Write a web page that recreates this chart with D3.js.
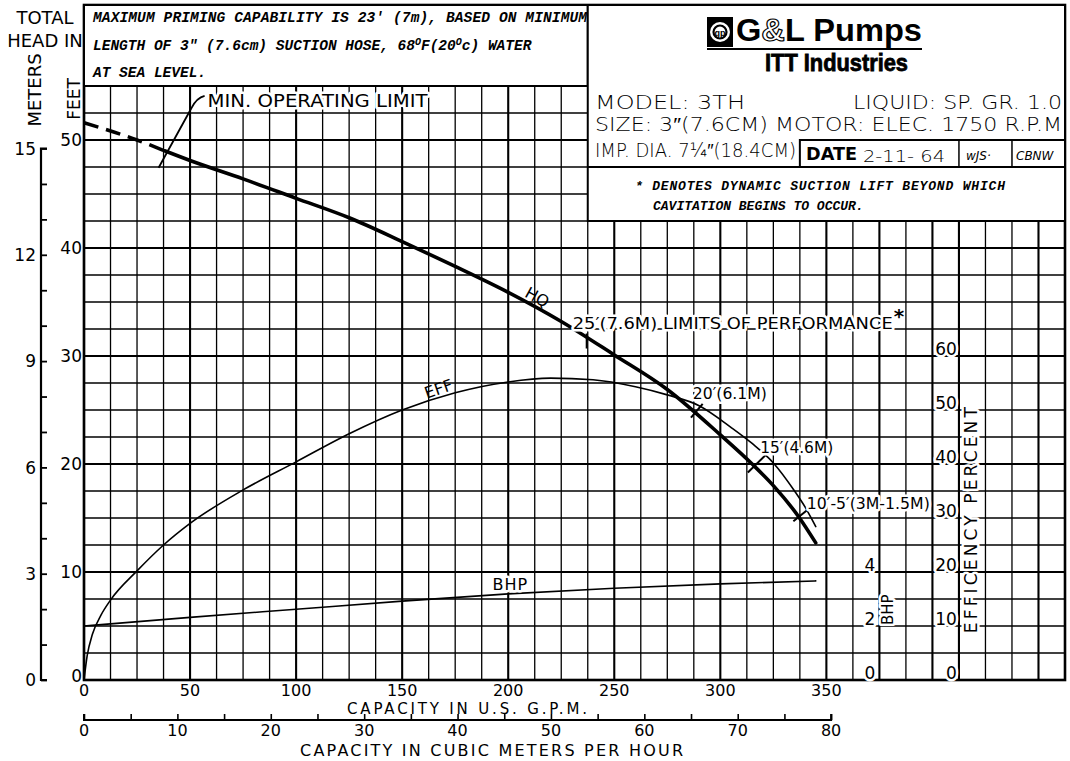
<!DOCTYPE html>
<html lang="en">
<head>
<meta charset="utf-8">
<title>G&amp;L Pumps 3TH performance curve</title>
<script src="https://cdn.jsdelivr.net/npm/d3@7"></script>
<style>
  body { margin: 0; background: #fff; }
  svg { display: block; }
  .lt { font-family: "DejaVu Sans", sans-serif; fill: #000; }
  .typed { font-family: "Liberation Mono", monospace; font-style: italic; font-weight: bold; fill: #000; }
  .halo { paint-order: stroke; stroke: #fff; stroke-width: 5px; stroke-linejoin: round; }
</style>
</head>
<body>
<script>
  // head-capacity curve (US GPM, feet)
  var hqGpm = [0, 25, 38, 50, 75, 100, 125, 150, 175, 200, 225, 250, 275, 300, 315, 325, 337, 345];
  var hqFeet = [51.6, 50.0, 49.0, 48.1, 46.4, 44.6, 42.8, 40.6, 38.3, 35.9, 33.2, 30.1, 26.9, 22.7, 20.0, 18.0, 15.1, 12.7];
  var minOperatingGpm = 38;

  // efficiency curve (US GPM, percent)
  var effGpm = [0, 1.5, 4, 8, 12.5, 25, 37.5, 50, 75, 100, 125, 150, 175, 200, 220, 240, 260, 275, 290, 305, 315, 325, 335, 340, 345];
  var effPct = [0, 4.5, 8.5, 12, 14.8, 20.2, 25, 29, 35.2, 40.4, 45.6, 50, 53.2, 55.2, 55.9, 55.6, 54.3, 52.8, 50.8, 46.8, 43.8, 40.2, 35, 32, 28.4];

  // brake horsepower (US GPM, HP)
  var bhpGpm = [0, 50, 100, 150, 200, 250, 300, 345];
  var bhpHp = [2.0, 2.32, 2.62, 2.92, 3.19, 3.4, 3.56, 3.67];

  // suction lift limits of performance
  var limitGpm = [237, 288, 316, 337];
  var limitText = ["25\u2032(7.6M) LIMITS OF PERFORMANCE", "20\u2032(6.1M)", "15\u2032(4.6M)", "10\u2032-5\u2032(3M-1.5M)"];

  // tick labels
  var gpmTicks = [0, 50, 100, 150, 200, 250, 300, 350];
  var cubicTicks = [0, 10, 20, 30, 40, 50, 60, 70, 80];
  var feetTicks = [0, 10, 20, 30, 40, 50];
  var meterTicks = [0, 3, 6, 9, 12, 15];
  var bhpTicks = [0, 2, 4];
  var effTicks = [0, 10, 20, 30, 40, 50, 60];

  var W = 1070, H = 761;
  var gpmMax = 462.5, feetMax = 62.5;

  var x = d3.scaleLinear().domain([0, gpmMax]).range([84, 1065]);
  var y = d3.scaleLinear().domain([0, feetMax]).range([680, 5]);
  var yMeters = d3.scaleLinear().domain([0, feetMax / 3.28084]).range([680, 5]);
  var xCubic = d3.scaleLinear().domain([0, gpmMax * 0.2271247]).range([84, 1065]);
  var yEff = d3.scaleLinear().domain([0, feetMax * 2]).range([680, 5]);
  var yBhp = d3.scaleLinear().domain([0, feetMax / 2.5]).range([680, 5]);

  var svg = d3.select("body").append("svg")
      .attr("width", W)
      .attr("height", H);

  // ---- grid ----
  var grid = svg.append("g").attr("stroke", "#000");
  grid.selectAll(".vline")
      .data(d3.range(0, gpmMax + 0.01, 12.5))
      .enter().append("line")
      .attr("x1", d => x(d)).attr("x2", d => x(d))
      .attr("y1", y(0)).attr("y2", y(feetMax))
      .attr("stroke-width", d => (d % 50 === 0 || d === 375 || d === 412.5) ? 2.1 : 1.3);
  grid.selectAll(".hline")
      .data(d3.range(0, feetMax + 0.01, 2.5))
      .enter().append("line")
      .attr("x1", x(0)).attr("x2", x(gpmMax))
      .attr("y1", d => y(d)).attr("y2", d => y(d))
      .attr("stroke-width", d => d % 10 === 0 ? 2.1 : 1.3);

  svg.append("rect")
      .attr("x", x(0)).attr("y", y(feetMax))
      .attr("width", x(gpmMax) - x(0)).attr("height", y(0) - y(feetMax))
      .attr("fill", "none").attr("stroke", "#000").attr("stroke-width", 2.6);

  // ---- boxes ----
  function box(g0, f0, g1, f1, sw) {
    return svg.append("rect")
        .attr("x", x(g0)).attr("y", y(f0))
        .attr("width", x(g1) - x(g0)).attr("height", y(f1) - y(f0))
        .attr("fill", "#fff").attr("stroke", "#000").attr("stroke-width", sw || 2);
  }
  box(0, feetMax, 237.5, 55);
  box(237.5, feetMax, gpmMax, 42.5);
  svg.append("line")
      .attr("x1", x(237.5)).attr("x2", x(gpmMax))
      .attr("y1", y(47.5)).attr("y2", y(47.5))
      .attr("stroke", "#000").attr("stroke-width", 2);
  box(337.5, 50, gpmMax, 47.5, 2);
  [412.5, 437.5].forEach(function (g) {
    svg.append("line")
        .attr("x1", x(g)).attr("x2", x(g)).attr("y1", y(50)).attr("y2", y(47.5))
        .attr("stroke", "#000").attr("stroke-width", 1.5);
  });

  // priming note
  var note = svg.append("g").attr("class", "typed").attr("font-size", 14.5);
  note.append("text").attr("x", 93).attr("y", 22).attr("textLength", 494)
      .text("MAXIMUM PRIMING CAPABILITY IS 23' (7m), BASED ON MINIMUM");
  var n2 = note.append("text").attr("x", 93).attr("y", 50);
  n2.append("tspan").text("LENGTH OF 3\" (7.6cm) SUCTION HOSE, 68");
  n2.append("tspan").attr("font-size", 10).attr("dy", -5).text("O");
  n2.append("tspan").attr("dy", 5).text("F(20");
  n2.append("tspan").attr("font-size", 10).attr("dy", -5).text("O");
  n2.append("tspan").attr("dy", 5).text("c) WATER");
  note.append("text").attr("x", 93).attr("y", 77).text("AT SEA LEVEL.");

  // ---- title block ----
  var logo = svg.append("g");
  logo.append("rect").attr("x", 707).attr("y", 17).attr("width", 26).attr("height", 30).attr("fill", "#000");
  logo.append("circle").attr("cx", 720).attr("cy", 32).attr("r", 10).attr("fill", "#fff");
  logo.append("circle").attr("cx", 720).attr("cy", 32).attr("r", 6.5).attr("fill", "none")
      .attr("stroke", "#000").attr("stroke-width", 2.2);
  logo.append("text").attr("x", 720).attr("y", 35.5).attr("text-anchor", "middle")
      .attr("font-family", "Liberation Sans").attr("font-size", 9).attr("font-weight", "bold").text("gp");
  var gl = logo.append("text").attr("x", 736).attr("y", 41)
      .attr("font-family", "Liberation Sans, Arial, sans-serif")
      .attr("font-weight", "bold").attr("font-size", 32)
      .attr("textLength", 186).attr("lengthAdjust", "spacingAndGlyphs");
  gl.append("tspan").text("G");
  gl.append("tspan").attr("fill", "#fff").attr("stroke", "#000").attr("stroke-width", 1.2).text("&");
  gl.append("tspan").text("L Pumps");
  logo.append("line").attr("x1", 707).attr("x2", 922).attr("y1", 49).attr("y2", 49)
      .attr("stroke", "#000").attr("stroke-width", 1.8);
  logo.append("text").attr("x", 765).attr("y", 71)
      .attr("font-family", "Liberation Sans, Arial, sans-serif")
      .attr("font-weight", "bold").attr("font-size", 24)
      .attr("stroke", "#000").attr("stroke-width", 0.8)
      .attr("textLength", 143).attr("lengthAdjust", "spacingAndGlyphs")
      .text("ITT Industries");

  var spec = svg.append("g").attr("class", "lt").attr("font-size", 19).attr("font-weight", 300);
  spec.append("text").attr("x", 595).attr("y", 109)
      .attr("textLength", 150).attr("lengthAdjust", "spacingAndGlyphs").text("MODEL: 3TH");
  spec.append("text").attr("x", 853).attr("y", 109)
      .attr("textLength", 209).attr("lengthAdjust", "spacingAndGlyphs").text("LIQUID: SP. GR. 1.0");
  spec.append("text").attr("x", 595).attr("y", 131)
      .attr("textLength", 467).attr("lengthAdjust", "spacingAndGlyphs")
      .text("SIZE: 3\u2033(7.6CM) MOTOR:  ELEC.  1750 R.P.M");
  spec.append("text").attr("x", 595).attr("y", 157)
      .attr("textLength", 201).attr("lengthAdjust", "spacingAndGlyphs")
      .text("IMP. DIA. 7\u00bc\u2033(18.4CM)");
  spec.append("text").attr("x", 806).attr("y", 160).attr("font-weight", "bold").attr("font-size", 18)
      .attr("textLength", 51).attr("lengthAdjust", "spacingAndGlyphs").text("DATE");
  spec.append("text").attr("x", 863).attr("y", 162).attr("font-size", 16)
      .attr("textLength", 82).attr("lengthAdjust", "spacingAndGlyphs").text("2-11- 64");
  spec.append("text").attr("x", 966).attr("y", 160).attr("font-size", 12).attr("font-style", "italic").text("wJS\u00b7");
  spec.append("text").attr("x", 1016).attr("y", 160).attr("font-size", 12).attr("font-style", "italic").text("CBNW");

  var star = svg.append("g").attr("class", "typed").attr("font-size", 13);
  star.append("text").attr("x", 635).attr("y", 190).attr("textLength", 370)
      .text("* DENOTES DYNAMIC SUCTION LIFT BEYOND WHICH");
  star.append("text").attr("x", 653).attr("y", 210).text("CAVITATION BEGINS TO OCCUR.");

  // ---- left axes ----
  var left = svg.append("g").attr("class", "lt");
  left.append("text").attr("x", 45).attr("y", 24).attr("text-anchor", "middle").attr("font-size", 18).text("TOTAL");
  left.append("text").attr("x", 45).attr("y", 47).attr("text-anchor", "middle").attr("font-size", 18).text("HEAD IN");
  left.append("text").attr("transform", "translate(41,90) rotate(-90)").attr("text-anchor", "middle")
      .attr("font-size", 18).text("METERS");
  left.append("text").attr("transform", "translate(80,99) rotate(-90)").attr("text-anchor", "middle")
      .attr("font-size", 17).text("FEET");

  var meterAxis = svg.append("g")
      .attr("transform", "translate(41,0)")
      .call(d3.axisRight(yMeters).tickValues(d3.range(0, 15.01, 1)).tickSize(6).tickFormat(""));
  meterAxis.select(".domain").attr("d", "M6," + yMeters(0) + "H0V" + yMeters(15) + "H6")
      .attr("stroke-width", 2.2);
  meterAxis.selectAll(".tick line").attr("stroke-width", 1.8);
  left.selectAll(".mlab").data(meterTicks).enter().append("text")
      .attr("x", 36).attr("y", d => yMeters(d)).attr("dy", "0.36em")
      .attr("text-anchor", "end").attr("font-size", 17).text(d => d);
  left.selectAll(".flab").data(feetTicks).enter().append("text")
      .attr("x", 82).attr("y", d => y(d)).attr("dy", d => d === 0 ? "0.1em" : "0.36em")
      .attr("text-anchor", "end").attr("font-size", 17).text(d => d);

  // ---- bottom axes ----
  var bottom = svg.append("g").attr("class", "lt").attr("font-size", 16);
  bottom.selectAll(".glab").data(gpmTicks).enter().append("text")
      .attr("x", d => x(d)).attr("y", 696).attr("text-anchor", "middle").text(d => d);
  bottom.append("text").attr("x", 347).attr("y", 714).attr("font-size", 15).attr("textLength", 240)
      .text("CAPACITY IN U.S. G.P.M.");

  var cubicAxis = svg.append("g")
      .attr("transform", "translate(0,720)")
      .call(d3.axisTop(xCubic).tickValues(d3.range(0, 80.01, 5)).tickSize(6).tickFormat(""));
  cubicAxis.select(".domain").attr("d", "M" + xCubic(0) + ",-6V0H" + xCubic(80) + "V-6")
      .attr("stroke-width", 2);
  cubicAxis.selectAll(".tick line").attr("stroke-width", 1.6);
  bottom.selectAll(".clab").data(cubicTicks).enter().append("text")
      .attr("x", d => xCubic(d)).attr("y", 736).attr("text-anchor", "middle").text(d => d);
  bottom.append("text").attr("x", 300).attr("y", 756).attr("textLength", 383)
      .text("CAPACITY IN CUBIC METERS PER HOUR");

  // ---- right axes (BHP, efficiency) ----
  var right = svg.append("g").attr("class", "lt halo").attr("font-size", 17);
  right.selectAll(".blab").data(bhpTicks).enter().append("text")
      .attr("x", x(375) - 4).attr("y", d => yBhp(d) - 1).attr("text-anchor", "end").text(d => d);
  right.append("text").attr("transform", "translate(" + (x(375) + 14) + "," + yBhp(2.6) + ") rotate(-90)")
      .attr("text-anchor", "middle").attr("font-size", 15).text("BHP");
  right.selectAll(".elab").data(effTicks).enter().append("text")
      .attr("x", x(412.5) - 2).attr("y", d => yEff(d) - 1).attr("text-anchor", "end").text(d => d);
  right.append("text").attr("transform", "translate(" + (x(412.5) + 18) + "," + yEff(29.6) + ") rotate(-90)")
      .attr("text-anchor", "middle").attr("textLength", 226).text("EFFICENCY  PERCENT");

  // ---- curves ----
  var hq = hqGpm.map((g, i) => [g, hqFeet[i]]);
  var eff = effGpm.map((g, i) => [g, effPct[i]]);
  var bhp = bhpGpm.map((g, i) => [g, bhpHp[i]]);

  var hqLine = d3.line().x(d => x(d[0])).y(d => y(d[1])).curve(d3.curveMonotoneX);
  var effLine = d3.line().x(d => x(d[0])).y(d => yEff(d[1])).curve(d3.curveMonotoneX);
  var bhpLine = d3.line().x(d => x(d[0])).y(d => yBhp(d[1])).curve(d3.curveMonotoneX);

  var curves = svg.append("g").attr("fill", "none").attr("stroke", "#000").attr("stroke-linecap", "round");
  curves.append("path").attr("d", effLine(eff)).attr("stroke-width", 1.6);
  curves.append("path").attr("d", bhpLine(bhp)).attr("stroke-width", 1.6);
  curves.append("path").attr("d", hqLine(hq.filter(d => d[0] <= minOperatingGpm)))
      .attr("stroke-width", 3.5).attr("stroke-dasharray", "15,8").attr("stroke-linecap", "butt");
  curves.append("path").attr("d", hqLine(hq.filter(d => d[0] >= minOperatingGpm)))
      .attr("stroke-width", 3.6);

  // head at a given capacity, in pixels, with the unit normal pointing up-right
  function hqPoint(g) {
    var i = Math.max(1, d3.bisectLeft(hqGpm, g));
    var t = (g - hqGpm[i - 1]) / (hqGpm[i] - hqGpm[i - 1]);
    var f = hqFeet[i - 1] + t * (hqFeet[i] - hqFeet[i - 1]);
    var dx = x(hqGpm[i]) - x(hqGpm[i - 1]), dy = y(hqFeet[i]) - y(hqFeet[i - 1]);
    var len = Math.hypot(dx, dy);
    return { x: x(g), y: y(f), nx: dy / len, ny: -dx / len, ang: Math.atan2(dy, dx) * 180 / Math.PI };
  }

  // limit ticks and labels
  var tickExtent = [[-4, 11], [-6, 12], [-9, 21], [-7, 15]];
  var labelShift = [[-14, -9], [-2, -14], [6, -13], [8, -8]];
  var labelLen = [320, 74, 73, 123];
  var ann = svg.append("g");
  limitGpm.forEach(function (g, i) {
    var p = hqPoint(g), e = tickExtent[i];
    var nx = i === 0 ? 0 : p.nx, ny = i === 0 ? 1 : p.ny;
    ann.append("line")
        .attr("x1", p.x + nx * e[0]).attr("y1", p.y + ny * e[0])
        .attr("x2", p.x + nx * e[1]).attr("y2", p.y + ny * e[1])
        .attr("stroke", "#000").attr("stroke-width", 2);
    ann.append("text").attr("class", "lt halo")
        .attr("x", p.x + labelShift[i][0]).attr("y", p.y + labelShift[i][1])
        .attr("font-size", i === 0 ? 16 : 15)
        .attr("textLength", labelLen[i]).attr("lengthAdjust", "spacingAndGlyphs")
        .text(limitText[i]);
    if (i === 0) {
      ann.append("text").attr("class", "lt")
          .attr("x", p.x + labelShift[i][0] + labelLen[i] + 1).attr("y", p.y + labelShift[i][1] - 6)
          .attr("font-size", 20).attr("font-weight", "bold").text("*");
    }
  });

  // minimum operating limit leader
  var m = hqPoint(minOperatingGpm);
  ann.append("path")
      .attr("d", "M" + (m.x - 6) + "," + (m.y + 17) + "L" + (m.x + 27) + "," + (m.y - 43)
        + "Q" + (m.x + 32) + "," + (m.y - 53) + " " + (m.x + 40) + "," + (m.y - 55))
      .attr("fill", "none").attr("stroke", "#000").attr("stroke-width", 1.8);
  ann.append("text").attr("class", "lt halo")
      .attr("x", m.x + 43).attr("y", m.y - 44)
      .attr("font-size", 17).attr("textLength", 220).attr("lengthAdjust", "spacingAndGlyphs")
      .text("MIN. OPERATING LIMIT");

  // curve names
  var pHq = hqPoint(211);
  ann.append("text").attr("class", "lt")
      .attr("transform", "translate(" + (pHq.x + 3) + "," + (pHq.y - 3) + ") rotate(" + pHq.ang + ")")
      .attr("text-anchor", "middle").attr("font-size", 16).text("HQ");
  ann.append("text").attr("class", "lt")
      .attr("transform", "translate(" + x(168) + "," + (yEff(52.4) - 3) + ") rotate(-19)")
      .attr("text-anchor", "middle").attr("font-size", 16).text("EFF");
  ann.append("text").attr("class", "lt halo")
      .attr("x", x(201)).attr("y", yBhp(3.19) - 4)
      .attr("text-anchor", "middle").attr("font-size", 16).attr("letter-spacing", 1).text("BHP");
</script>
</body>
</html>
